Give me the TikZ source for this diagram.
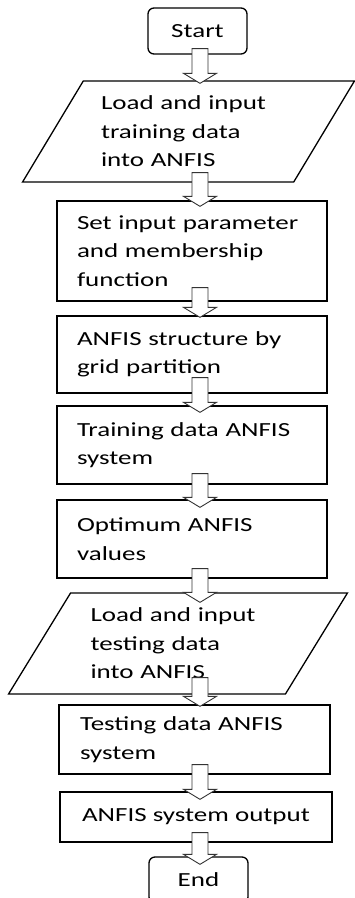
\documentclass[tikz,border=0pt]{standalone}
\usepackage{fontspec}
\setmainfont{Carlito}[FakeStretch=1.35]
\usetikzlibrary{calc,shapes.geometric}
\tikzset{
  stepbox/.style={draw, line width=1.3pt, align=left, text width=230pt, inner xsep=20pt},
  iobox/.style={draw, line width=1.3pt, trapezium, trapezium left angle=56, trapezium right angle=124,
    trapezium stretches=true, align=left, text width=175pt},
  termbox/.style={draw, line width=1.3pt, rounded corners=6pt, minimum width=99pt, minimum height=46pt},
  bigarrow/.style={draw=black!80, line width=0.9pt, fill=white, to path={
    let \p1=(\tikztostart), \p2=(\tikztotarget) in
    (\x1-8pt,\y1) -- (\x1+8pt,\y1) -- (\x1+8pt,\y2+10pt) -- (\x1+16.5pt,\y2+10pt)
    -- (\x1,\y2) -- (\x1-16.5pt,\y2+10pt) -- (\x1-8pt,\y2+10pt) -- cycle}}
}
\begin{document}
\begin{tikzpicture}[x=1pt,y=1pt,font=\fontsize{20}{28.5}\selectfont]
      \useasboundingbox (0,0) rectangle (355,-898);
      \node[termbox] (start) at (197.5,-31) {Start};
      \node[iobox, minimum width=333pt, minimum height=101pt] (load1) at (188.5,-131.5)
        {Load and input\\training data\\into ANFIS};
      \node[stepbox, minimum height=100pt] (param) at (192,-251)
        {Set input parameter\\and membership\\function};
      \node[stepbox, minimum height=77pt] (grid) at (192,-354.5)
        {ANFIS structure by\\grid partition};
      \node[stepbox, minimum height=78pt] (train) at (192,-445)
        {Training data ANFIS\\system};
      \node[stepbox, minimum height=78pt] (optim) at (192,-539)
        {Optimum ANFIS\\values};
      \node[iobox, minimum width=340pt, minimum height=101pt] (load2) at (178,-643.5)
        {Load and input\\testing data\\into ANFIS};
      \node[stepbox, text width=229pt, inner xsep=21pt, minimum height=69pt] (test) at (194.5,-739.5)
        {Testing data ANFIS\\system};
      \node[draw, line width=1.3pt, minimum width=272pt, minimum height=50pt] (output) at (196,-817)
        {ANFIS system output};
      \node[termbox] (end) at (198.5,-880) {End};
      \draw[bigarrow] ([xshift=2.5pt,yshift=6pt]start.south) to ([yshift=-3pt]load1.north);
      \draw[bigarrow] ([xshift=8pt,yshift=10pt]param.north |- load1.south) to ([yshift=-6pt]param.north);
      \draw[bigarrow] ([xshift=8pt,yshift=14pt]param.south) to ([yshift=-2pt]grid.north);
      \draw[bigarrow] ([xshift=8pt,yshift=16pt]grid.south) to ([yshift=-7pt]train.north);
      \draw[bigarrow] ([xshift=8pt,yshift=11pt]train.south) to ([yshift=-8pt]optim.north);
      \draw[bigarrow] ([xshift=8pt,yshift=10pt]optim.south) to ([yshift=-10pt]load2.north);
      \draw[bigarrow] ([xshift=8pt,yshift=17pt]optim.south |- load2.south) to ([yshift=-2pt]test.north);
      \draw[bigarrow] ([xshift=5.5pt,yshift=10pt]test.south) to ([yshift=-8pt]output.north);
      \draw[bigarrow] ([xshift=4pt,yshift=10pt]output.south) to ([yshift=-8pt]end.north);
    \end{tikzpicture}
\end{document}
